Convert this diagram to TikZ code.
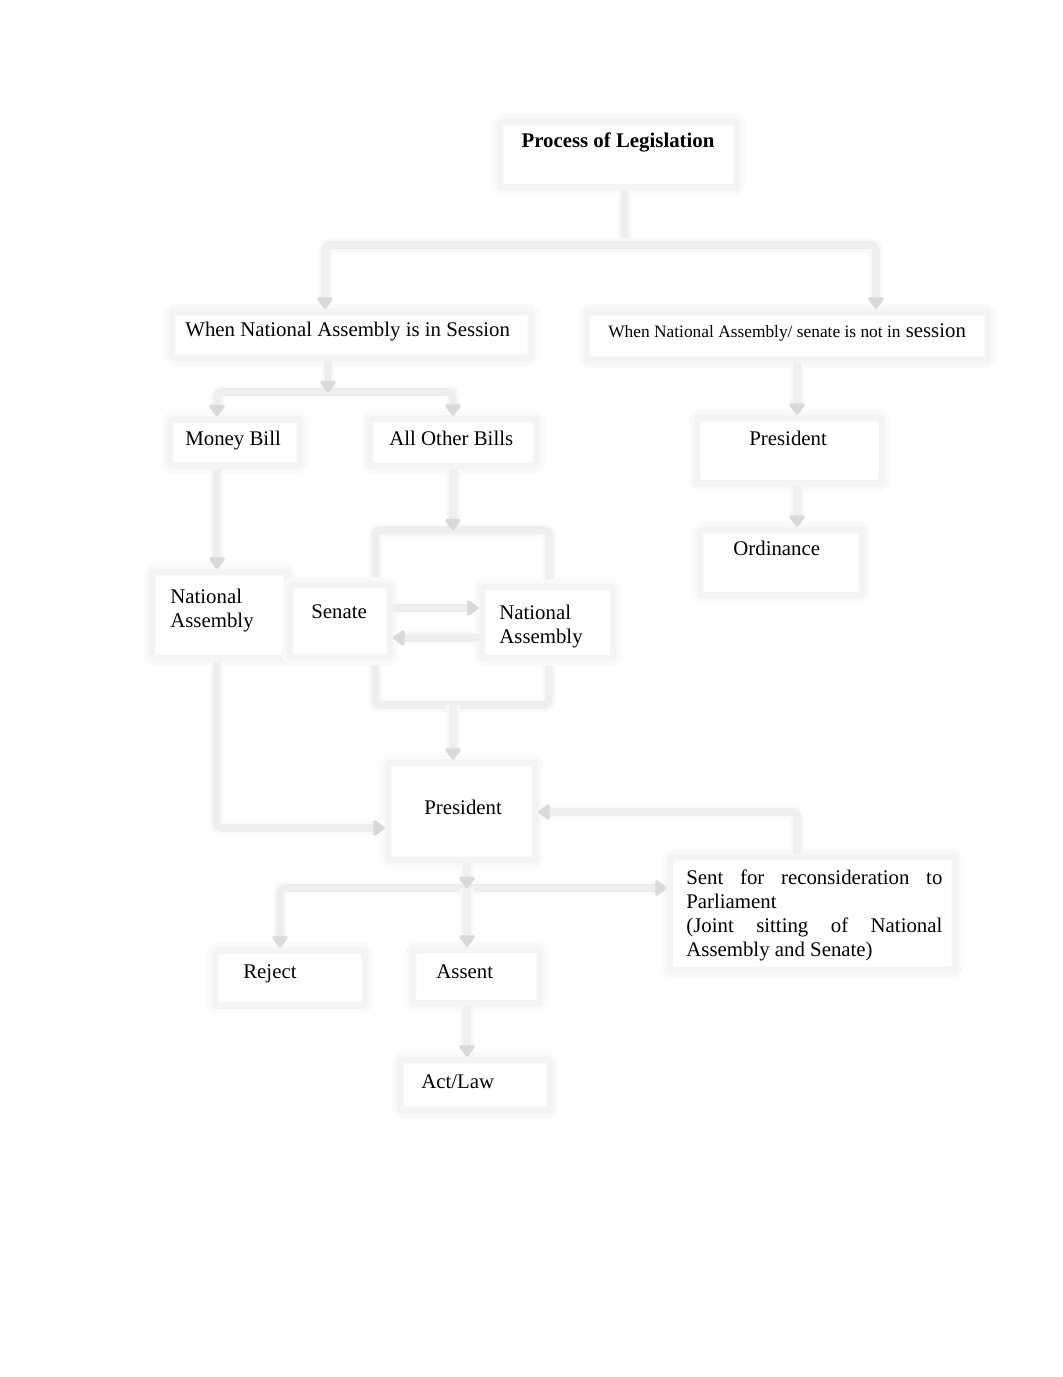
\documentclass[tikz,border=0pt]{standalone}
\usepackage{fontspec}
\setmainfont{Liberation Serif}
\usetikzlibrary{arrows.meta}
\begin{document}
\begin{tikzpicture}[x=0.576pt,y=-0.576pt,
  box/.style 2 args={draw=gray!9, line width=4pt, fill=white, rounded corners=1pt,
     preaction={draw=gray!4, line width=9pt},
     minimum width=#1*0.576pt, minimum height=#2*0.576pt, inner sep=0pt},
  txt/.style={inner sep=0pt, font=\fontsize{12}{13.8}\selectfont, text=black},
  line/.style={draw=gray!13, line width=4.5pt, rounded corners=3pt,
     preaction={draw=gray!5, line width=8pt}},
  arr/.style={line, -{Triangle[length=7pt,width=10pt,round,color=gray!30]}}
]
\useasboundingbox (0,0) rectangle (1062,1377);

% feedback loop between Senate and National Assembly
\coordinate (lpTL) at (375,530);
\coordinate (lpBR) at (549,705);
\draw[line] (lpTL) rectangle (lpBR);

% boxes
\node[box={237}{65}]  (title)  at (618.5,154.5) {};
\node[box={359}{46}]  (inS)    at (351.5,335) {};
\node[box={401}{48}]  (notS)   at (787.5,336) {};
\node[box={130}{46}]  (money)  at (235,442.5) {};
\node[box={167}{47}]  (other)  at (453.5,442.5) {};
\node[box={185}{65}]  (presR)  at (789.5,450.5) {};
\node[box={162}{65}]  (ord)    at (781,562.5) {};
\node[box={135}{86}]  (naL)    at (219.5,615) {};
\node[box={100}{72}]  (senate) at (340,621) {};
\node[box={131}{71}]  (naR)    at (547.5,622.5) {};
\node[box={147}{97}]  (presM)  at (461.5,811.5) {};
\node[box={285}{113}] (sent)   at (812.5,913.5) {};
\node[box={150}{55}]  (reject) at (290,978) {};
\node[box={127}{53}]  (assent) at (476.5,976.5) {};
\node[box={150}{50}]  (act)    at (475,1085) {};

% texts
\node[txt, anchor=base, font=\fontsize{12}{13.8}\selectfont\bfseries] (tTitle) at (618,148) {Process of Legislation};
\node[txt, anchor=base west] (tInS) at (185,337) {When National Assembly is in Session};
\node[txt, anchor=base west] (tNotS) at (608,338) {{\fontsize{10}{12}\selectfont When National Assembly/ senate is not in} session};
\node[txt, anchor=base west] (tMoney) at (185,445) {Money Bill};
\node[txt, anchor=base west] (tOther) at (389,445) {All Other Bills};
\node[txt, anchor=base west] (tPresR) at (749,445) {President};
\node[txt, anchor=base west] (tOrd) at (733,555) {Ordinance};
\node[txt, anchor=base west, align=left] (tNaL) at (170,627) {National\\Assembly};
\node[txt, anchor=base west] (tSenate) at (311,618) {Senate};
\node[txt, anchor=base west, align=left] (tNaR) at (499,643) {National\\Assembly};
\node[txt, anchor=base west] (tPresM) at (424,814) {President};
\node[txt, anchor=base west, align=left] (tSent) at (686,956)
  {\makebox[147.5pt][s]{Sent for reconsideration to}\\Parliament\\
   \makebox[147.5pt][s]{(Joint sitting of National}\\Assembly and Senate)};
\node[txt, anchor=base west] (tReject) at (243,978) {Reject};
\node[txt, anchor=base west] (tAssent) at (436,978) {Assent};
\node[txt, anchor=base west] (tAct) at (421,1088) {Act/Law};

% helper coordinates
\coordinate (jT) at (625,245);
\coordinate (xA) at (325,0);
\coordinate (xB) at (876,0);
\coordinate (jM) at (328,392);
\coordinate (xD) at (217,0);
\coordinate (xE) at (453,0);
\coordinate (xR) at (797,0);
\coordinate (ySA) at (0,608);
\coordinate (yAS) at (0,638);
\coordinate (yNP) at (0,828);
\coordinate (jB) at (467,888);
\coordinate (xRej) at (280,0);
\coordinate (ySP) at (0,812);

% connectors
\draw[line] (title.south -| jT) -- (jT);
\draw[arr] (jT) -| (xA |- inS.north);
\draw[arr] (jT) -| (xB |- notS.north);

\draw[arr] (jM) -| (xD |- money.north);
\draw[arr] (jM) -| (xE |- other.north);
\draw[arr] (inS.south -| jM) -- (jM);

\draw[arr] (money.south -| xD) -- (xD |- naL.north);
\draw[arr] (other.south -| xE) -- (xE |- lpTL);

\draw[arr] (senate.east |- ySA) -- (naR.west |- ySA);
\draw[arr] (naR.west |- yAS) -- (senate.east |- yAS);

\draw[arr] (xE |- lpBR) -- (xE |- presM.north);
\draw[arr] (naL.south -| xD) |- (presM.west |- yNP);

\draw[arr] (notS.south -| xR) -- (xR |- presR.north);
\draw[arr] (presR.south -| xR) -- (xR |- ord.north);

\draw[arr] (jB) -- (sent.west |- jB);
\draw[arr] (jB) -| (xRej |- reject.north);
\draw[arr] (jB) -- (jB |- assent.north);
\draw[arr] (presM.south -| jB) -- (jB);

\draw[arr] (sent.north -| xR) |- (presM.east |- ySP);
\draw[arr] (assent.south -| jB) -- (jB |- act.north);
\end{tikzpicture}
\end{document}
